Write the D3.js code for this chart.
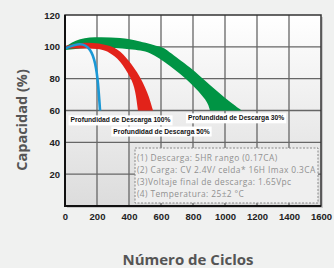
<!DOCTYPE html>
<html>
<head>
<meta charset="utf-8">
<script src="https://cdn.jsdelivr.net/npm/d3@7"></script>
<style>
  body { margin: 0; background: #f0f1f0; }
  svg { display: block; }
</style>
</head>
<body>
<svg id="chart"></svg>
<script>
// cycles vs capacity (%)
let xTicks = [0, 200, 400, 600, 800, 1000, 1200, 1400, 1600]
let yTicks = [20, 40, 60, 80, 100, 120]

let greenUpper = [[0, 100], [94, 104.8], [219, 106], [344, 105.5], [469, 103.4], [594, 100], [656, 96.5], [781, 87], [906, 76], [1031, 65.5], [1106, 60]]
let greenLower = [[0, 98], [200, 99.5], [400, 98.5], [531, 96], [656, 88], [781, 77.5], [875, 67], [906, 60]]
let redUpper = [[0, 100.5], [125, 102.6], [281, 100.5], [375, 94], [450, 84], [513, 71.5], [550, 60]]
let redLower = [[0, 99], [200, 98.6], [281, 96], [344, 90.7], [406, 81], [438, 72], [456, 60]]
let blueLine = [[0, 99], [94, 101.6], [156, 98], [188, 89.5], [206, 77], [219, 60]]

let bandLabels = ['Profundidad de Descarga 100%', 'Profundidad de Descarga 50%', 'Profundidad de Descarga 30%']
let notes = [
  '(1) Descarga: 5HR rango (0.17CA)',
  '(2) Carga: CV 2.4V/ celda* 16H Imax 0.3CA',
  '(3)Voltaje final de descarga: 1.65Vpc',
  '(4) Temperatura: 25±2 °C'
]

let W = 334, H = 268
let svg = d3.select('#chart').attr('width', W).attr('height', H)

let x = d3.scaleLinear().domain([0, 1600]).range([65, 321])
let y = d3.scaleLinear().domain([0, 120]).range([206, 15])

let defs = svg.append('defs')
let grad = defs.append('linearGradient').attr('id', 'bg').attr('x1', 0).attr('y1', 0).attr('x2', 0).attr('y2', 1)
grad.append('stop').attr('offset', '0%').attr('stop-color', '#ffffff')
grad.append('stop').attr('offset', '100%').attr('stop-color', '#dcdcdc')

// shadow on right of frame
svg.append('rect')
  .attr('x', x(0) + 2).attr('y', y(120) + 2)
  .attr('width', x(1600) - x(0)).attr('height', y(0) - y(120))
  .attr('fill', '#c8c8c8')

svg.append('rect')
  .attr('x', x(0)).attr('y', y(120))
  .attr('width', x(1600) - x(0)).attr('height', y(0) - y(120))
  .attr('fill', 'url(#bg)')

// grid
svg.append('g').selectAll('line').data(xTicks.slice(1, -1)).enter().append('line')
  .attr('x1', d => x(d)).attr('x2', d => x(d))
  .attr('y1', y(120)).attr('y2', y(0))
  .attr('stroke', '#666').attr('stroke-width', 1.3)
svg.append('g').selectAll('line').data(yTicks.slice(0, -1)).enter().append('line')
  .attr('x1', x(0)).attr('x2', x(1600))
  .attr('y1', d => y(d)).attr('y2', d => y(d))
  .attr('stroke', '#666').attr('stroke-width', 1.3)

// bands: upper edge forwards, lower edge backwards
let line = d3.line().x(d => x(d[0])).y(d => y(d[1])).curve(d3.curveNatural)
function band(upper, lower) {
  let up = line(upper)
  let lo = line(lower.slice().reverse())
  return up + 'L' + lo.slice(1) + 'Z'
}
svg.append('path').attr('d', band(greenUpper, greenLower)).attr('fill', '#009444')
svg.append('path').attr('d', band(redUpper, redLower)).attr('fill', '#e2231a')
svg.append('path').attr('d', line(blueLine))
  .attr('fill', 'none').attr('stroke', '#1b98d5').attr('stroke-width', 2.6)

// band labels
let labelPos = [[347, 54], [603, 47], [1069, 55.3]]
let lg = svg.append('g')
bandLabels.forEach((t, i) => {
  let g = lg.append('g').attr('transform', 'translate(' + x(labelPos[i][0]) + ',' + y(labelPos[i][1]) + ')')
  let txt = g.append('text')
    .attr('text-anchor', 'middle').attr('dy', '0.35em')
    .attr('font-family', 'Liberation Sans, Arial, sans-serif')
    .attr('font-weight', 'bold').attr('font-size', 6.7)
    .attr('fill', '#111').text(t)
  let bb = txt.node().getBBox()
  g.insert('rect', 'text')
    .attr('x', bb.x - 2).attr('y', bb.y - 1)
    .attr('width', bb.width + 4).attr('height', bb.height + 2)
    .attr('fill', '#fff')
})

// frame
svg.append('rect')
  .attr('x', x(0)).attr('y', y(120))
  .attr('width', x(1600) - x(0)).attr('height', y(0) - y(120))
  .attr('fill', 'none').attr('stroke', '#333').attr('stroke-width', 1.5)
svg.append('line').attr('x1', x(0)).attr('x2', x(0)).attr('y1', y(120)).attr('y2', y(0) + 1)
  .attr('stroke', '#111').attr('stroke-width', 2)
svg.append('line').attr('x1', x(0)).attr('x2', x(1600)).attr('y1', y(0)).attr('y2', y(0))
  .attr('stroke', '#111').attr('stroke-width', 2)

// notes box
let nb = svg.append('g')
nb.append('rect')
  .attr('x', 135).attr('y', 148).attr('width', 183).attr('height', 55)
  .attr('fill', '#efefef').attr('stroke', '#888').attr('stroke-width', 1)
  .attr('stroke-dasharray', '2,1.5')
nb.selectAll('text').data(notes).enter().append('text')
  .attr('x', 137).attr('y', (d, i) => 161 + i * 12)
  .attr('font-family', 'Open Sans, sans-serif').attr('font-size', 8.4)
  .attr('letter-spacing', 0.4)
  .attr('fill', '#909090').text(d => d)

// axes labels
let xAxis = d3.axisBottom(x).tickValues(xTicks).tickFormat(d3.format('d')).tickSize(0).tickPadding(7)
svg.append('g').attr('transform', 'translate(0,' + y(0) + ')').call(xAxis)
  .call(g => g.select('.domain').remove())
  .selectAll('text')
  .attr('font-family', 'Liberation Sans, Arial, sans-serif')
  .attr('font-weight', 'bold').attr('font-size', 9.5).attr('fill', '#222')

let yAxis = d3.axisLeft(y).tickValues(yTicks).tickSize(0).tickPadding(5)
svg.append('g').attr('transform', 'translate(' + x(0) + ',0)').call(yAxis)
  .call(g => g.select('.domain').remove())
  .selectAll('text')
  .attr('font-family', 'Liberation Sans, Arial, sans-serif')
  .attr('font-weight', 'bold').attr('font-size', 9.5).attr('fill', '#222')

svg.append('text')
  .attr('transform', 'translate(27,120) rotate(-90)')
  .attr('text-anchor', 'middle')
  .attr('font-family', 'Open Sans, sans-serif').attr('font-weight', 'bold')
  .attr('font-size', 14.5).attr('fill', '#555')
  .text('Capacidad (%)')

svg.append('text')
  .attr('x', 188).attr('y', 265)
  .attr('text-anchor', 'middle')
  .attr('font-family', 'Open Sans, sans-serif').attr('font-weight', 'bold')
  .attr('font-size', 15).attr('fill', '#555')
  .text('Número de Ciclos')
</script>
</body>
</html>
